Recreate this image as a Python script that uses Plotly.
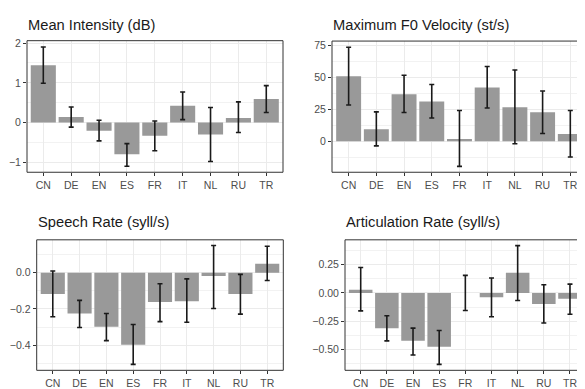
import plotly.graph_objects as go

countries = ["CN", "DE", "EN", "ES", "FR", "IT", "NL", "RU", "TR"]

# Mean Intensity (dB)
mi_mean = [1.44, 0.14, -0.205, -0.80, -0.33, 0.42, -0.30, 0.115, 0.59]
mi_lo = [0.99, -0.115, -0.46, -1.10, -0.71, 0.074, -0.98, -0.25, 0.255]
mi_hi = [1.90, 0.39, 0.06, -0.53, 0.04, 0.77, 0.38, 0.52, 0.93]

# Maximum F0 Velocity (st/s)
f0_mean = [50.9, 9.5, 36.8, 31.2, 1.8, 42.2, 26.6, 22.8, 5.6]
f0_lo = [28.4, -3.6, 22.5, 18.2, -19.7, 26.1, -2.0, 6.1, -12.3]
f0_hi = [73.7, 23.0, 51.7, 44.5, 24.1, 58.6, 55.8, 39.4, 24.1]

# Speech Rate (syll/s)
sr_mean = [-0.117, -0.225, -0.299, -0.398, -0.162, -0.157, -0.018, -0.117, 0.049]
sr_lo = [-0.243, -0.303, -0.375, -0.506, -0.270, -0.274, -0.198, -0.229, -0.043]
sr_hi = [0.009, -0.153, -0.225, -0.286, -0.061, -0.034, 0.150, -0.009, 0.146]

# Articulation Rate (syll/s)
ar_mean = [0.029, -0.31, -0.42, -0.474, 0.0, -0.037, 0.178, -0.098, -0.052]
ar_lo = [-0.158, -0.422, -0.546, -0.629, -0.155, -0.21, -0.066, -0.264, -0.187]
ar_hi = [0.224, -0.201, -0.31, -0.330, 0.155, 0.132, 0.417, 0.072, 0.078]

titles = ["Mean Intensity (dB)", "Maximum F0 Velocity (st/s)",
          "Speech Rate (syll/s)", "Articulation Rate (syll/s)"]
panels = [(mi_mean, mi_lo, mi_hi), (f0_mean, f0_lo, f0_hi),
          (sr_mean, sr_lo, sr_hi), (ar_mean, ar_lo, ar_hi)]

OFF = 8  # page body margin
W, H = 585 - OFF, 389 - OFF
# pixel boxes in page coordinates (left, right, top, bottom)
boxes = [(27, 283, 37.3, 171.7), (332, 585, 37.7, 171.7),
         (36.7, 283.3, 240.7, 374), (345, 585, 240.7, 374)]
xranges = [[-0.585, 8.6], [-0.6, 8.53], [-0.6, 8.6], [-0.6, 8.574]]
yranges = [[-1.25, 2.06], [-24.3, 78.5], [-0.539, 0.1816], [-0.681, 0.468]]
dticks = [1, 25, 0.2, 0.25]
tickfmt = ["d", "d", ".1f", ".2f"]
title_pos = [(26, 21.5), (331, 21.5), (35.7, 223), (344, 223)]

fig = go.Figure()
font_fam = "Liberation Sans, Arial, sans-serif"
shapes = []
annotations = []
for i, ((m, lo, hi), box) in enumerate(zip(panels, boxes)):
    n = "" if i == 0 else str(i + 1)
    plus = [h - v for h, v in zip(hi, m)]
    minus = [v - l for v, l in zip(m, lo)]
    fig.add_trace(go.Bar(
        x=countries, y=m, xaxis="x" + n, yaxis="y" + n,
        marker=dict(color="#999999", line=dict(width=0)),
        error_y=dict(type="data", symmetric=False, array=plus, arrayminus=minus,
                     color="#1a1a1a", thickness=1.6, width=2.5),
        showlegend=False, hoverinfo="skip"))
    l, r, t, b = [v - OFF for v in box]
    dom_x = [l / W, min(r / W, 1.0)]
    dom_y = [1 - b / H, 1 - t / H]
    axis_common = dict(showline=False, ticks="outside", ticklen=3, tickwidth=1,
                       tickcolor="#333333", zeroline=False,
                       tickfont=dict(size=10.5, color="#4d4d4d", family=font_fam),
                       gridcolor="#ebebeb", gridwidth=1)
    fig.layout["xaxis" + n] = dict(axis_common, domain=dom_x, anchor="y" + n,
                                   type="category", range=xranges[i],
                                   showgrid=True, fixedrange=True)
    fig.layout["yaxis" + n] = dict(axis_common, domain=dom_y, anchor="x" + n,
                                   range=yranges[i], dtick=dticks[i], tick0=0,
                                   tickformat=tickfmt[i], showgrid=True,
                                   minor=dict(dtick=dticks[i] / 2, tick0=0, showgrid=True,
                                              gridcolor="#f2f2f2", gridwidth=0.6,
                                              ticks=""))
    xd = "x" + n + " domain"
    yd = "y" + n + " domain"
    x1 = 1.0 if i in (0, 2) else 1.02
    shapes.append(dict(type="rect", xref=xd, yref=yd, x0=0, x1=x1, y0=0, y1=1,
                       line=dict(color="#333333", width=1), fillcolor="rgba(0,0,0,0)",
                       layer="above"))
    tx, ty = title_pos[i]
    annotations.append(dict(text=titles[i], xref="paper", yref="paper",
                            x=(tx - OFF) / W, y=1 - (ty - OFF) / H,
                            xanchor="left", yanchor="middle",
                            showarrow=False,
                            font=dict(size=14.7, color="#1a1a1a", family=font_fam)))

fig.update_layout(width=W, height=H, margin=dict(l=0, r=0, t=0, b=0),
                  paper_bgcolor="white", plot_bgcolor="white", bargap=0.1,
                  shapes=shapes, annotations=annotations)
fig.write_html("out.html")
